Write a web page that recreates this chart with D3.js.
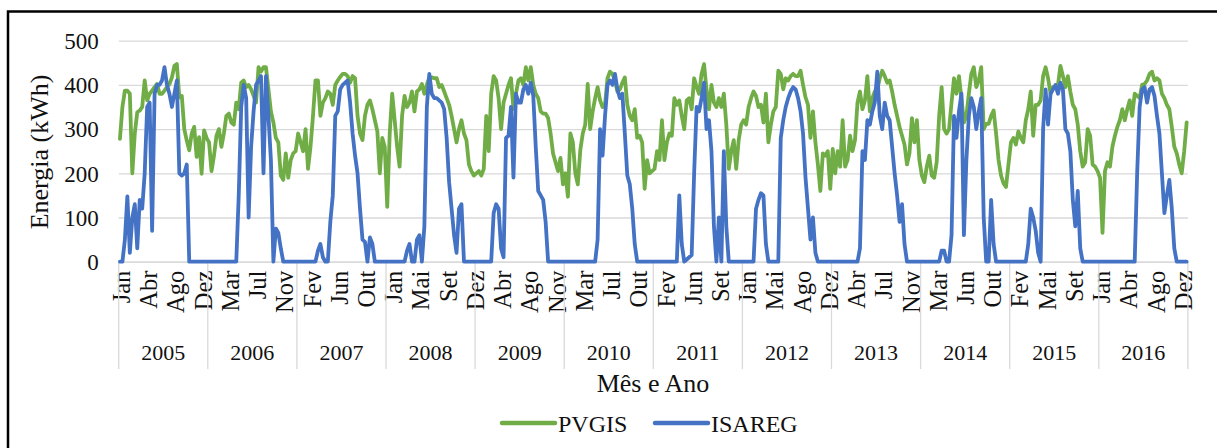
<!DOCTYPE html>
<html><head><meta charset="utf-8">
<script src="https://cdn.jsdelivr.net/npm/d3@7"></script>
<style>
body{margin:0;background:#fff} svg{display:block}
svg text{font-family:"Liberation Serif","Times New Roman","DejaVu Serif",serif !important;}
</style>
</head><body><svg id="c" width="1217" height="448"></svg>
<script>
const years = [2005,2006,2007,2008,2009,2010,2011,2012,2013,2014,2015,2016];
const monthNames = ["Jan","Fev","Mar","Abr","Mai","Jun","Jul","Ago","Set","Out","Nov","Dez"];
const yTicks = [0,100,200,300,400,500];
const seriesNames = ["PVGIS","ISAREG"];
// three values per month (decêndios), 36 per year
const pvgis = [
278,350,387,387,380,200,290,338,342,350,410,365,380,387,395,402,380,380,387,395,402,417,443,447,372,375,300,274,252,290,305,237,282,199,297,280,
270,205,240,285,300,260,290,330,335,315,310,360,345,405,410,395,400,390,375,360,440,430,440,440,390,340,315,280,270,195,185,245,190,230,245,250,
290,270,250,300,210,260,330,410,410,330,360,370,385,380,355,400,410,418,425,425,420,405,420,415,330,290,275,330,355,365,345,320,295,200,280,260,
124,290,380,320,260,215,330,375,350,360,385,340,385,390,402,380,400,417,417,415,415,395,400,385,370,355,330,300,270,300,320,290,275,220,205,195,
200,205,195,210,330,250,380,420,410,370,300,360,380,400,415,345,380,410,415,400,440,410,440,400,380,370,340,335,335,325,290,245,225,205,235,175,
200,147,290,270,200,175,252,290,310,402,300,340,370,395,365,350,355,415,430,425,410,385,390,405,417,355,330,320,345,280,285,270,165,230,200,205,
210,250,230,320,230,270,290,285,370,355,365,330,300,365,370,345,415,395,380,425,447,390,345,400,360,350,370,350,380,310,210,250,275,210,275,310,
320,310,350,370,385,375,350,355,315,380,270,310,340,350,432,425,390,415,410,420,425,420,420,432,400,372,355,280,340,270,220,160,245,240,250,165,
255,200,250,215,320,215,230,285,250,275,360,385,345,365,420,340,370,385,390,415,432,420,405,410,385,355,330,305,285,265,220,245,325,270,320,230,
195,180,215,240,195,190,225,330,395,300,290,300,360,415,380,420,370,315,330,380,425,440,395,410,440,300,312,312,330,342,290,230,195,177,169,220,
270,280,265,295,280,270,320,345,385,285,355,355,365,420,440,415,380,395,395,400,443,420,395,420,385,355,345,310,250,215,225,300,285,220,215,205,
190,65,205,225,215,260,285,305,320,345,320,345,365,330,380,375,370,400,402,410,425,430,410,415,410,380,370,355,345,305,260,245,220,200,250,315
];
const isareg = [
0,0,50,148,20,100,130,30,140,120,200,350,360,70,380,400,400,410,440,400,380,350,380,410,200,195,200,220,0,0,0,0,0,0,0,0,
0,0,0,0,0,0,0,0,0,0,0,0,150,350,400,370,100,260,340,400,410,420,200,420,330,230,0,75,65,30,0,0,0,0,0,0,
0,0,0,0,0,0,0,0,25,40,10,0,0,90,150,330,340,390,400,405,410,360,290,240,200,120,50,45,0,55,40,0,0,0,0,0,
0,0,0,0,0,0,0,0,25,40,0,0,50,60,0,80,350,425,380,370,370,365,360,345,280,180,120,60,20,120,130,0,0,0,0,0,
0,0,0,0,0,0,0,110,130,120,30,10,280,285,350,190,380,360,360,390,400,380,405,375,260,160,150,140,90,0,0,0,0,0,0,0,
0,0,0,0,0,0,0,0,0,0,0,0,0,50,300,240,330,400,410,400,425,390,370,380,290,195,175,120,40,0,0,0,0,0,0,0,
0,0,0,0,0,0,0,0,0,0,150,40,0,5,10,15,200,350,340,370,405,300,320,250,80,0,100,0,250,80,0,0,0,0,0,0,
0,0,0,0,0,120,140,155,150,40,0,0,0,0,0,280,320,350,370,385,395,390,370,340,290,190,120,50,100,20,0,0,0,0,0,0,
0,0,0,0,0,0,0,0,0,0,0,30,250,230,320,310,340,360,430,330,300,360,330,320,260,200,150,90,130,40,0,0,0,0,0,0,
0,0,0,0,0,0,0,0,25,25,0,0,60,330,280,340,380,60,230,330,370,350,300,340,370,100,0,0,140,40,0,0,0,0,0,0,
0,0,0,0,0,0,0,40,120,100,70,20,0,300,390,310,380,390,400,380,405,390,300,290,250,140,80,160,30,0,0,0,0,0,0,0,
0,0,0,0,0,0,0,0,0,0,0,0,0,0,0,200,350,390,395,360,390,395,375,330,290,200,110,150,185,120,30,0,0,0,0,0
];
const colors = ["#70AD47","#4472C4"];

const TXT = "#111";
const svg = d3.select("#c");
const plotLeft = 118.7, plotRight = 1187.9, yBottom = 261.7, yTop = 40.7;
const perYear = 36, labelEvery = 11;
const n = pvgis.length;
const x = d3.scaleBand().domain(d3.range(n)).range([plotLeft, plotRight]).padding(0);
const y = d3.scaleLinear().domain([0, 500]).range([yBottom, yTop]);
const cx = i => x(i) + x.bandwidth() / 2;

// frame (chart area border)
svg.append("path").attr("d", `M8,448 L8,11.5 L1217,11.5`).attr("fill","none")
  .attr("stroke","#000").attr("stroke-width",2.5);

// y axis with gridlines
const gy = svg.append("g").attr("transform", `translate(${plotLeft},0)`)
  .call(d3.axisLeft(y).tickValues(yTicks).tickSize(-(plotRight - plotLeft)).tickPadding(20).tickFormat(d3.format("d")));
gy.select(".domain").remove();
gy.selectAll(".tick line").attr("stroke","#d9d9d9").attr("stroke-width",1.3);
gy.selectAll(".tick text").attr("font-size",23).attr("fill",TXT).attr("dy","0.34em");

// x axis (month labels)
const gx = svg.append("g").attr("transform", `translate(0,${yBottom})`)
  .call(d3.axisBottom(x).tickValues(d3.range(n).filter(i => i % labelEvery === 0)).tickSize(0)
    .tickFormat(i => monthNames[Math.floor((i % perYear) / 3)]));
gx.select(".domain").attr("stroke","#d9d9d9").attr("stroke-width",1.3);
gx.selectAll(".tick text").attr("font-size",24.5).attr("fill",TXT)
  .attr("text-anchor","end").attr("transform","rotate(-90)")
  .attr("x",-9).attr("y",1.5).attr("dy","0.35em");

// year separators and labels
const yearEdges = d3.range(years.length + 1).map(k => plotLeft + k * perYear * x.step());
svg.append("g").selectAll("line").data(yearEdges).join("line")
  .attr("x1", d => d).attr("x2", d => d).attr("y1", yBottom).attr("y2", 369)
  .attr("stroke","#d9d9d9").attr("stroke-width",1.3);
svg.append("g").selectAll("text").data(years).join("text")
  .attr("x", (d,k) => (yearEdges[k] + yearEdges[k+1]) / 2).attr("y", 360)
  .attr("text-anchor","middle").attr("font-size",22).attr("fill",TXT)
  .text(d => d);

// series lines
const line = d3.line().x((d,i) => cx(i)).y(d => y(d));
[pvgis, isareg].forEach((s, k) => {
  svg.append("path").datum(s).attr("d", line).attr("fill","none")
    .attr("stroke", colors[k]).attr("stroke-width",3.8)
    .attr("stroke-linejoin","round").attr("stroke-linecap","round");
});

// axis titles
svg.append("text").attr("transform","translate(39,152) rotate(-90)").attr("text-anchor","middle")
  .attr("dy","0.35em").attr("font-size",26).attr("fill",TXT).text("Energia (kWh)");
svg.append("text").attr("x",653).attr("y",392).attr("text-anchor","middle")
  .attr("font-size",26).attr("fill",TXT).text("Mês e Ano");

// legend
const legendX = [500, 653];
seriesNames.forEach((name, k) => {
  const g = svg.append("g").attr("transform", `translate(${legendX[k]},423)`);
  g.append("line").attr("x1",2).attr("x2",55).attr("y1",0).attr("y2",0)
    .attr("stroke",colors[k]).attr("stroke-width",4.5).attr("stroke-linecap","round");
  g.append("text").attr("x", 58).attr("y", 9).attr("font-size",24)
    .attr("fill",TXT).text(name);
});
</script>
</body></html>
